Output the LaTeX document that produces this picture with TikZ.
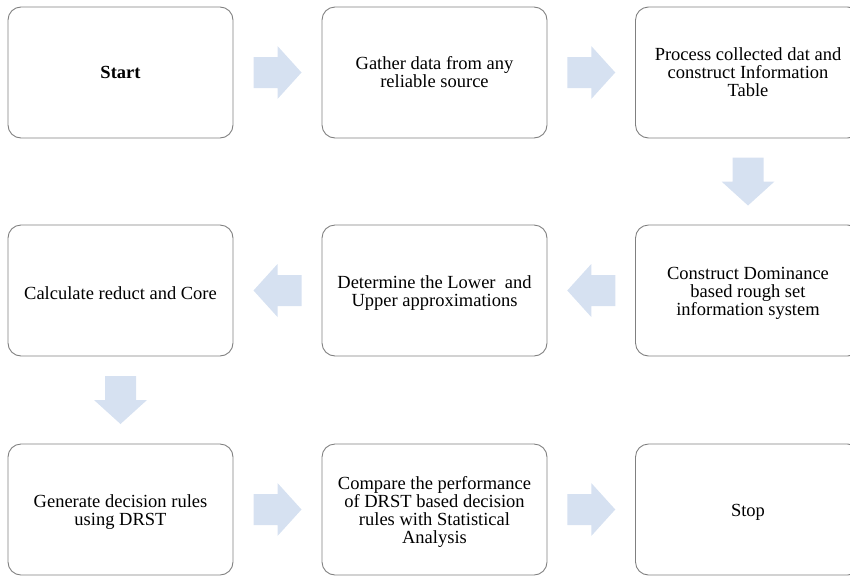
\documentclass[tikz,border=0pt]{standalone}
\usepackage{fontspec}
\setmainfont{Liberation Serif}
\usetikzlibrary{calc}
\definecolor{arrowblue}{RGB}{214,225,241}
\definecolor{boxgray}{RGB}{128,128,128}
\newcommand\lowerfirst{\rule{0pt}{18pt}}
\tikzset{
  box/.style={draw=boxgray, line width=0.9pt, rounded corners=13pt, minimum width=225pt, minimum height=131pt, align=center, inner sep=0pt, font=\fontsize{18.5}{18}\selectfont},
  arrowfill/.style={fill=arrowblue, draw=none}
}
\newcommand\blockarrow[3]{%
  \path ($(#1)!0.5!(#2)$) coordinate (m-#1-#2);
  \fill[arrowfill, shift={(m-#1-#2)}, rotate=#3] (-24,-15.5) -- (0,-15.5) -- (0,-26.5) -- (24,0) -- (0,26.5) -- (0,15.5) -- (-24,15.5) -- cycle;}
\begin{document}
\begin{tikzpicture}[x=1pt,y=-1pt]
\useasboundingbox (0,0) rectangle (850,576);
\node[box] (b1) at (120.5,72.5) {\textbf{Start}};
\node[box] (b2) at (434.5,72.5) {Gather data from any\\reliable source};
\node[box] (b3) at (748,72.5) {Process collected dat and\\construct Information\\Table};
\node[box] (b4) at (748,290.5) {\lowerfirst Construct Dominance\\based rough set\\information system};
\node[box] (b5) at (434.5,290.5) {\lowerfirst Determine the Lower\ \ and\\Upper approximations};
\node[box] (b6) at (120.5,290.5) {\lowerfirst Calculate reduct and Core};
\node[box] (b7) at (120.5,509.5) {\lowerfirst Generate decision rules\\using DRST};
\node[box] (b8) at (434.5,509.5) {\lowerfirst Compare the performance\\of DRST based decision\\rules with Statistical\\Analysis};
\node[box] (b9) at (748,509.5) {\lowerfirst Stop};
\blockarrow{b1}{b2}{0}
\blockarrow{b2}{b3}{0}
\blockarrow{b3}{b4}{-90}
\blockarrow{b4}{b5}{180}
\blockarrow{b5}{b6}{180}
\blockarrow{b6}{b7}{-90}
\blockarrow{b7}{b8}{0}
\blockarrow{b8}{b9}{0}
\end{tikzpicture}
\end{document}
